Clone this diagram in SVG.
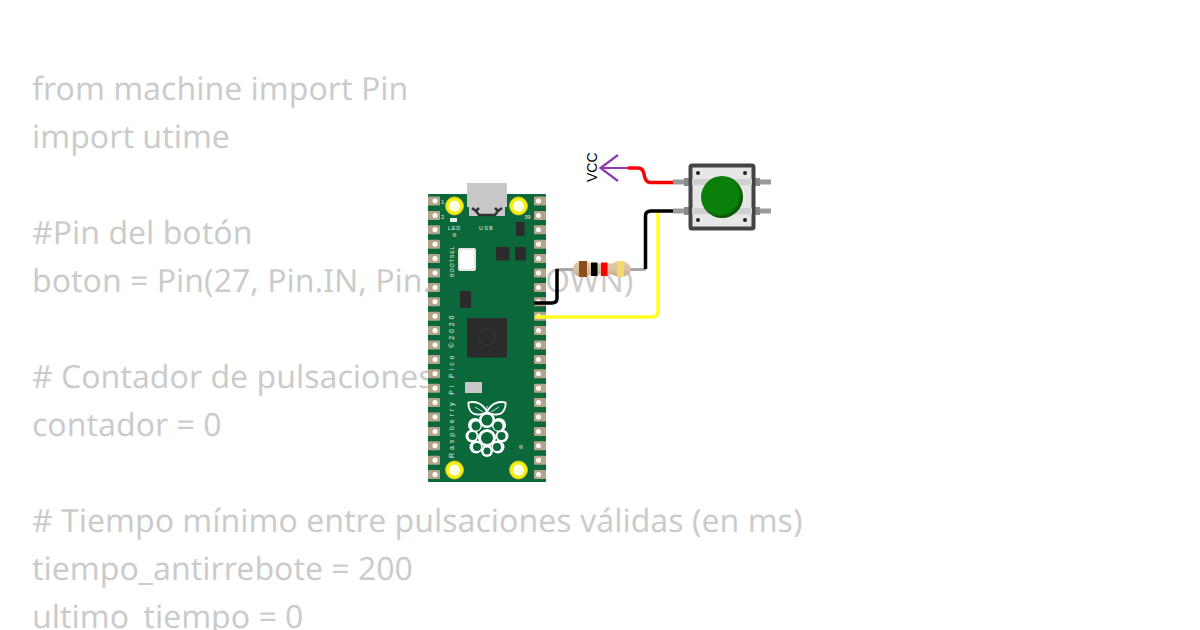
<svg xmlns="http://www.w3.org/2000/svg" width="1200" height="630" viewBox="0 0 1200 630">
<defs>
<style>
.code{font-family:"Noto Sans",sans-serif;font-size:32px;fill:#000000;text-rendering:geometricPrecision}
.silk{font-family:"Liberation Sans",sans-serif;fill:#ffffff;opacity:.9}
.wire{fill:none;stroke-width:3.500;stroke-linejoin:round}
.pad{fill:#b4a58a}
.hole{fill:#ffffff}
.mount{fill:#f4ee10;stroke:#d8c820;stroke-width:.8}
.chip{fill:#2b2b2b}
.dot{fill:#222222}
.berry{fill:#ffffff}
.seed{fill:#0a683a}
</style>
<g id="padL"><rect x="0" y="0" width="12" height="9" rx="1" class="pad"/><circle cx="7" cy="4.500" r="2.500" class="hole"/></g>
<g id="padR"><rect x="0" y="0" width="12" height="9" rx="1" class="pad"/><circle cx="4.500" cy="4.500" r="2.500" class="hole"/></g>
<radialGradient id="btn" cx="0.450" cy="0.450" r="0.550"><stop offset="0.800" stop-color="#0a800a"/><stop offset="1" stop-color="#064d06"/></radialGradient>
<linearGradient id="res" x1="0" y1="0" x2="0" y2="1"><stop offset="0" stop-color="#e2cbb0"/><stop offset="0.500" stop-color="#dcc2a4"/><stop offset="1" stop-color="#c4a98c"/></linearGradient>
</defs>
<rect width="1200" height="630" fill="#ffffff"/>
<g id="code" opacity="0.200">
<text class="code" x="32" y="100">from machine import Pin</text>
<text class="code" x="32" y="148">import utime</text>
<text class="code" x="32" y="244">#Pin del botón</text>
<text class="code" x="32" y="292">boton = Pin(27, Pin.IN, Pin.PULL_DOWN)</text>
<text class="code" x="32" y="388"># Contador de pulsaciones</text>
<text class="code" x="32" y="436">contador = 0</text>
<text class="code" x="32" y="532"># Tiempo mínimo entre pulsaciones válidas (en ms)</text>
<text class="code" x="32" y="580">tiempo_antirrebote = 200</text>
<text class="code" x="32" y="628">ultimo_tiempo = 0</text>
</g>
<g id="pico">
<rect x="428" y="194" width="118" height="288" rx="1" fill="#0a683a"/>
<path d="M467 183H507V207H505V216H469V207H467Z" fill="#c8c8c8"/>
<path d="M472 208l4 3 3-3M502 208l-4 3-3-3M476 211l3 4h16l3-4" fill="none" stroke="#333333" stroke-width="2.500"/>
<g id="pads">
<use href="#padL" x="428" y="196.500"/><use href="#padL" x="428" y="210.900"/><use href="#padL" x="428" y="225.300"/><use href="#padL" x="428" y="239.700"/><use href="#padL" x="428" y="254.100"/><use href="#padL" x="428" y="268.500"/><use href="#padL" x="428" y="282.900"/><use href="#padL" x="428" y="297.300"/><use href="#padL" x="428" y="311.700"/><use href="#padL" x="428" y="326.100"/><use href="#padL" x="428" y="340.500"/><use href="#padL" x="428" y="354.900"/><use href="#padL" x="428" y="369.300"/><use href="#padL" x="428" y="383.700"/><use href="#padL" x="428" y="398.100"/><use href="#padL" x="428" y="412.500"/><use href="#padL" x="428" y="426.900"/><use href="#padL" x="428" y="441.300"/><use href="#padL" x="428" y="455.700"/><use href="#padL" x="428" y="470.100"/>
<use href="#padR" x="534" y="196.500"/><use href="#padR" x="534" y="210.900"/><use href="#padR" x="534" y="225.300"/><use href="#padR" x="534" y="239.700"/><use href="#padR" x="534" y="254.100"/><use href="#padR" x="534" y="268.500"/><use href="#padR" x="534" y="282.900"/><use href="#padR" x="534" y="297.300"/><use href="#padR" x="534" y="311.700"/><use href="#padR" x="534" y="326.100"/><use href="#padR" x="534" y="340.500"/><use href="#padR" x="534" y="354.900"/><use href="#padR" x="534" y="369.300"/><use href="#padR" x="534" y="383.700"/><use href="#padR" x="534" y="398.100"/><use href="#padR" x="534" y="412.500"/><use href="#padR" x="534" y="426.900"/><use href="#padR" x="534" y="441.300"/><use href="#padR" x="534" y="455.700"/><use href="#padR" x="534" y="470.100"/>
</g>
<circle cx="454.500" cy="206" r="9" class="mount"/><circle cx="454.500" cy="206" r="5.500" fill="#fffde8"/>
<circle cx="518.500" cy="206" r="9" class="mount"/><circle cx="518.500" cy="206" r="5.500" fill="#fffde8"/>
<circle cx="454.500" cy="470" r="9" class="mount"/><circle cx="454.500" cy="470" r="5.500" fill="#fffde8"/>
<circle cx="518.500" cy="470" r="9" class="mount"/><circle cx="518.500" cy="470" r="5.500" fill="#fffde8"/>
<rect x="516" y="222" width="8.500" height="14" class="chip"/>
<rect x="496" y="247" width="13.500" height="13.500" class="chip"/>
<rect x="515" y="247" width="11" height="13.500" class="chip"/>
<rect x="460" y="291" width="11" height="17" class="chip"/>
<rect x="467" y="318" width="40" height="39.500" class="chip"/>
<circle cx="487" cy="337" r="8" fill="none" stroke="#343434" stroke-width="1.500"/>
<rect x="458" y="248" width="18" height="23" rx="2" fill="#e6e6e6"/>
<rect x="460" y="250" width="14" height="19" rx="3" fill="#ffffff"/>
<rect x="465" y="382" width="17" height="11" fill="#c8c8c8"/>
<rect x="450" y="218" width="7" height="4" fill="#e6eeee"/>
<circle cx="454.500" cy="235" r="2.200" fill="#7f9a7a"/>
<circle cx="521" cy="447" r="2.200" fill="#7f9a7a"/>
<text class="silk" x="448" y="230" font-size="5.500" letter-spacing="0.800">LED</text>
<text class="silk" x="479" y="230" font-size="5.500" letter-spacing="1.200">USB</text>
<text class="silk" x="441" y="204" font-size="5.500">1</text>
<text class="silk" x="441" y="218.500" font-size="5.500">2</text>
<text class="silk" x="524.500" y="218.500" font-size="5.500">39</text>
<text class="silk" transform="translate(454 277) rotate(-90)" font-size="5.500" letter-spacing="0.800">BOOTSEL</text>
<text class="silk" transform="translate(453.500 458) rotate(-90)" font-size="7" letter-spacing="2.900">Raspberry Pi Pico ©2020</text>
<g id="raspberry-logo">
<path d="M468.500 402.500c6-1.500 14 0 18.500 9.500-6 4-14 3-16.500-1-1.500-2.500-2.500-5.500-2-8.500zM505.500 402.500c-6-1.500-14 0-18.500 9.500 6 4 14 3 16.500-1 1.500-2.500 2.500-5.500 2-8.500z" fill="#0a683a" stroke="#ffffff" stroke-width="1.800"/>
<path d="M487 412V406M475 407l8 5M499 407l-8 5" stroke="#ffffff" stroke-width=".8" fill="none"/>
<g class="berry"><circle cx="487" cy="420" r="8"/><circle cx="475" cy="425" r="7"/><circle cx="499" cy="425" r="7"/><circle cx="487" cy="438" r="9"/><circle cx="472" cy="436" r="6.500"/><circle cx="502" cy="436" r="6.500"/><circle cx="476" cy="447" r="6.500"/><circle cx="498" cy="447" r="6.500"/><circle cx="487" cy="451" r="6"/></g>
<g class="seed"><circle cx="487" cy="420" r="5.500"/><circle cx="476" cy="426" r="4.500"/><circle cx="498" cy="426" r="4.500"/><circle cx="487" cy="438" r="6"/><circle cx="472.500" cy="436" r="4"/><circle cx="501.500" cy="436" r="4"/><circle cx="477" cy="447" r="4"/><circle cx="497" cy="447" r="4"/><circle cx="487" cy="451" r="3.500"/></g>
</g>
</g>
<g id="resistor">
<path d="M556 269.500H574M630 269.500H646" stroke="#a8a8a8" stroke-width="3" fill="none"/>
<path d="M573 269c0-5 4-8 9-8 6 0 7 2.500 11 2.500h17c4 0 5-2.500 11-2.500 5 0 10 4 10 8s-5 8-10 8c-6 0-7-2.500-11-2.500h-17c-4 0-5 2.500-11 2.500-5 0-9-3-9-8z" fill="url(#res)"/>
<rect x="579" y="261" width="8" height="16" fill="#8b4f1c"/>
<rect x="591" y="262.500" width="6.500" height="13.500" fill="#000000"/>
<rect x="601" y="262.500" width="6.500" height="13.500" fill="#ff0000"/>
<rect x="617" y="261" width="7" height="16" fill="#f2da70"/>
</g>
<g id="button">
<path d="M673 182H690M673 211H690M754 182H771M754 211H771" stroke="#9a9a9a" stroke-width="5" fill="none"/>
<path d="M684 182H690M684 211H690M754 182H760M754 211H760" stroke="#8a8a8a" stroke-width="8" fill="none"/>
<rect x="690.500" y="165.500" width="63" height="63" rx="1.500" fill="#e6e6e6" stroke="#444444" stroke-width="4"/>
<rect x="692" y="179" width="60" height="6" fill="#d0d0d0"/><rect x="692" y="208" width="60" height="6" fill="#d0d0d0"/>
<circle cx="698" cy="173" r="2" class="dot"/><circle cx="745" cy="173" r="2" class="dot"/><circle cx="698" cy="220" r="2" class="dot"/><circle cx="745" cy="220" r="2" class="dot"/>
<circle cx="722" cy="197" r="21" fill="url(#btn)"/>
</g>
<g id="vcc">
<path d="M618 155L600.500 168L618 181M600.500 168H628" fill="none" stroke="#8f3ab0" stroke-width="2.200"/>
<text transform="translate(597 182) rotate(-90)" font-family="Liberation Sans, sans-serif" font-size="14" fill="#000000">VCC</text>
</g>
<g id="connectors">
<path class="wire" stroke="#ffff22" d="M535 317H652Q658 317 658 311V211"/>
<path class="wire" stroke="#ff0000" d="M628 168H638Q643 168 644 174Q645 182 650 182.500H673"/>
<path class="wire" stroke="#000000" d="M673 211H651Q645.500 211 645.500 216V269"/>
<path class="wire" stroke="#000000" d="M534 303H552Q557 303 557 298V269"/>
</g>
</svg>
